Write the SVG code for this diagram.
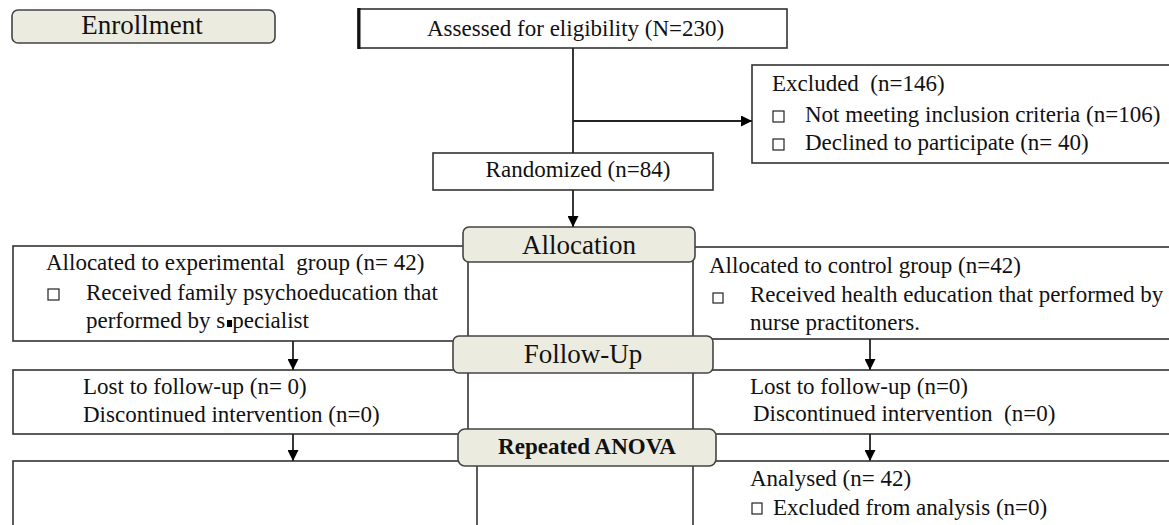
<svg xmlns="http://www.w3.org/2000/svg" width="1169" height="525" viewBox="0 0 1169 525">
<style>
text { font-family: "Liberation Serif", "Times New Roman", serif; fill: #111; white-space: pre; }
.t { font-size: 23px; }
.h { font-size: 27px; }
.b { font-size: 23px; font-weight: bold; }
.box { fill: #fff; stroke: #333; stroke-width: 1.6; }
.phase { fill: #ecebe0; stroke: #444; stroke-width: 1.6; }
.cb { fill: #fff; stroke: #222; stroke-width: 1.2; }
.ln { fill: none; stroke: #222; stroke-width: 1.8; }
</style>
<defs>
<marker id="ah" markerWidth="10" markerHeight="11" refX="11" refY="5.5" orient="auto" markerUnits="userSpaceOnUse">
<path d="M0,0 L11,5.5 L0,11 Z" fill="#000"/>
</marker>
</defs>

<g id="enrollment">
<rect class="phase" x="12" y="10" width="263" height="33" rx="6"/>
<text class="h" x="142" y="34" text-anchor="middle">Enrollment</text>
</g>

<g id="assessed">
<rect class="box" x="358" y="9" width="429" height="39"/>
<line x1="359" y1="8" x2="359" y2="49" stroke="#111" stroke-width="3"/>
<text class="t" x="427" y="36">Assessed for eligibility (N=230)</text>
</g>

<g id="excluded">
<rect class="box" x="752" y="65" width="430" height="98"/>
<text class="t" x="772" y="91" xml:space="preserve">Excluded  (n=146)</text>
<rect class="cb" x="773" y="111" width="11" height="11"/>
<text class="t" x="805" y="122">Not meeting inclusion criteria (n=106)</text>
<rect class="cb" x="773" y="139" width="11" height="11"/>
<text class="t" x="805" y="150">Declined to participate (n= 40)</text>
</g>

<g id="randomized">
<rect class="box" x="433" y="153" width="280" height="37"/>
<text class="t" x="578" y="177" text-anchor="middle">Randomized (n=84)</text>
</g>

<g id="experimental">
<rect class="box" x="13" y="246" width="455" height="95"/>
<text class="t" x="46" y="270" xml:space="preserve">Allocated to experimental  group (n= 42)</text>
<rect class="cb" x="48" y="289" width="11" height="11"/>
<text class="t" x="86" y="300">Received family psychoeducation that</text>
<text class="t" x="86" y="328">performed by s<tspan dx="7">pecialist</tspan></text>
<rect x="227" y="320" width="5" height="7" fill="#000"/>
</g>

<g id="control">
<rect class="box" x="693" y="247" width="490" height="92"/>
<text class="t" x="709" y="273">Allocated to control group (n=42)</text>
<rect class="cb" x="713" y="293" width="10" height="10"/>
<text class="t" x="750" y="302">Received health education that performed by</text>
<text class="t" x="750" y="330">nurse practitoners.</text>
</g>

<g id="followup-left">
<rect class="box" x="13" y="370" width="455" height="64"/>
<text class="t" x="83" y="394">Lost to follow-up (n= 0)</text>
<text class="t" x="83" y="422">Discontinued intervention (n=0)</text>
</g>

<g id="followup-right">
<rect class="box" x="693" y="370" width="490" height="64"/>
<text class="t" x="750" y="394">Lost to follow-up (n=0)</text>
<text class="t" x="753" y="421" xml:space="preserve">Discontinued intervention  (n=0)</text>
</g>

<g id="analysis-left">
<rect class="box" x="13" y="461" width="464" height="80"/>
</g>

<g id="analysis-right">
<rect class="box" x="693" y="461" width="490" height="80"/>
<text class="t" x="750" y="486">Analysed (n= 42)</text>
<rect class="cb" x="752" y="503" width="10" height="11"/>
<text class="t" x="773" y="515">Excluded from analysis (n=0)</text>
</g>

<g id="allocation">
<rect class="phase" x="463" y="227" width="232" height="35" rx="6"/>
<text class="h" x="579" y="254" text-anchor="middle">Allocation</text>
</g>

<g id="followup">
<rect class="phase" x="453" y="336" width="260" height="37" rx="6"/>
<text class="h" x="583" y="363" text-anchor="middle">Follow-Up</text>
</g>

<g id="anova">
<rect class="phase" x="458" y="429" width="258" height="37" rx="7"/>
<text class="b" x="587" y="454" text-anchor="middle">Repeated ANOVA</text>
</g>

<g id="connectors">
<line class="ln" x1="573" y1="48" x2="573" y2="153"/>
<line class="ln" x1="573" y1="121" x2="752" y2="121" marker-end="url(#ah)"/>
<line class="ln" x1="573" y1="190" x2="573" y2="227" marker-end="url(#ah)"/>
<line class="ln" x1="293" y1="341" x2="293" y2="370" marker-end="url(#ah)"/>
<line class="ln" x1="870" y1="339" x2="870" y2="370" marker-end="url(#ah)"/>
<line class="ln" x1="293" y1="434" x2="293" y2="461" marker-end="url(#ah)"/>
<line class="ln" x1="870" y1="434" x2="870" y2="461" marker-end="url(#ah)"/>
</g>
</svg>
